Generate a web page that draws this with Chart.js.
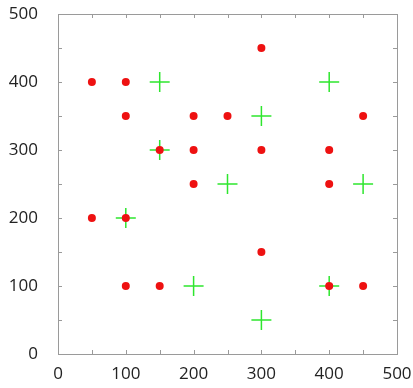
<!DOCTYPE html>
<html><head><meta charset="utf-8">
<script src="https://cdn.jsdelivr.net/npm/chart.js@4/dist/chart.umd.min.js"></script>
<style>html,body{margin:0;padding:0;background:#fff}#wrap{width:413px;height:388px}</style>
</head><body><div id="wrap"><canvas id="c" width="413" height="388"></canvas></div>
<script>
const redX = [50,100,100,200,250,300,450,150,200,300,400,200,400,50,100,300,100,150,400,450];
const redY = [400,400,350,350,350,450,350,300,300,300,300,250,250,200,200,150,100,100,100,100];
const greenX = [150,400,300,150,250,450,100,200,300,400];
const greenY = [400,400,350,300,250,250,200,100,50,100];
const tickValues = [0,100,200,300,400,500];
const minorValues = [0,50,100,150,200,250,300,350,400,450,500];

const toPts = (xs, ys) => xs.map((x, i) => ({x, y: ys[i]}));

const frame = {
  id: 'frame',
  afterDatasetsDraw(chart) {
    const {ctx, chartArea: a, scales} = chart;
    ctx.save();
    ctx.strokeStyle = '#9a9a9a';
    ctx.lineWidth = 1;
    ctx.strokeRect(Math.round(a.left)+0.5, Math.round(a.top)+0.5, Math.round(a.right-a.left), Math.round(a.bottom-a.top));
    const L = 4;
    ctx.beginPath();
    minorValues.forEach(v => {
      const px = Math.round(scales.x.getPixelForValue(v)) + 0.5;
      ctx.moveTo(px, a.bottom); ctx.lineTo(px, a.bottom - L);
      ctx.moveTo(px, a.top); ctx.lineTo(px, a.top + L);
      const py = Math.round(scales.y.getPixelForValue(v)) + 0.5;
      ctx.moveTo(a.left, py); ctx.lineTo(a.left + L, py);
      ctx.moveTo(a.right, py); ctx.lineTo(a.right - L, py);
    });
    ctx.stroke();
    ctx.restore();
  }
};

new Chart(document.getElementById('c'), {
  type: 'scatter',
  data: {
    datasets: [
      {data: toPts(redX, redY), pointStyle: 'circle', pointRadius: 4, backgroundColor: '#ee1111', borderColor: '#ee1111', borderWidth: 0},
      {data: toPts(greenX, greenY), pointStyle: 'cross', pointRadius: 10, borderColor: '#2ee62e', backgroundColor: '#2ee62e', borderWidth: 1.5}
    ]
  },
  options: {
    responsive: false,
    animation: false,
    devicePixelRatio: 1,
    layout: {padding: {top: 14, right: 16, left: 0, bottom: 0}},
    plugins: {legend: {display: false}, tooltip: {enabled: false}},
    scales: {
      x: {
        type: 'linear', min: 0, max: 500,
        afterBuildTicks: s => { s.ticks = tickValues.map(v => ({value: v})); },
        afterFit: s => { s.height = 34; s.paddingLeft = 0; s.paddingRight = 0; },
        grid: {display: false}, border: {display: false},
        ticks: {color: '#222', font: {family: 'Open Sans', size: 17}, padding: 2, maxRotation: 0}
      },
      y: {
        type: 'linear', min: 0, max: 500,
        afterBuildTicks: s => { s.ticks = tickValues.map(v => ({value: v})); },
        afterFit: s => { s.width = 58; s.paddingTop = 0; s.paddingBottom = 0; },
        grid: {display: false}, border: {display: false},
        ticks: {color: '#222', font: {family: 'Open Sans', size: 17}, padding: 12}
      }
    }
  },
  plugins: [frame]
});
</script></body></html>
